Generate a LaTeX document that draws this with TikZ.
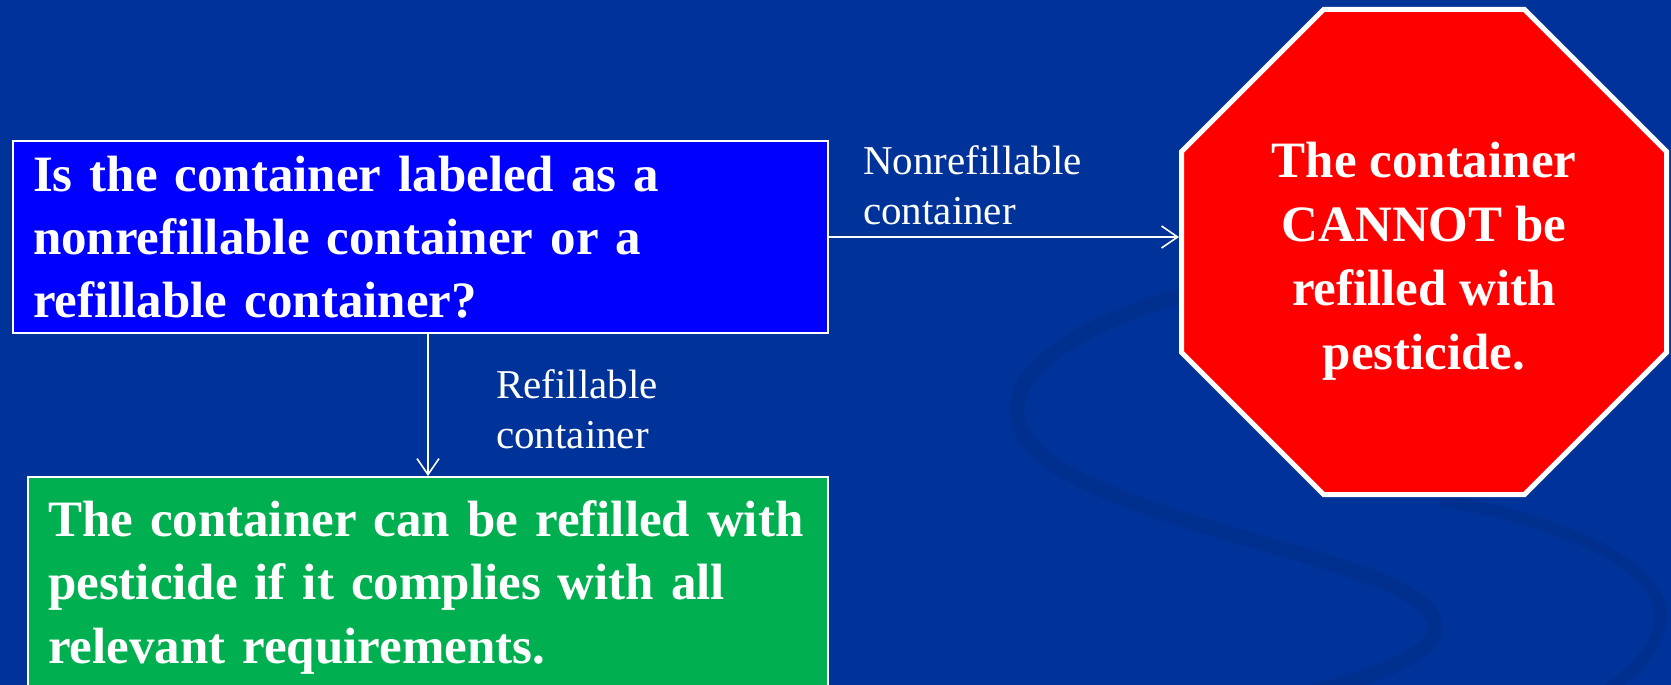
\documentclass[tikz,border=0pt]{standalone}
\usepackage{fontspec}
\setmainfont{Liberation Serif}
\usetikzlibrary{arrows.meta,shapes.geometric}
\definecolor{slide}{RGB}{0,51,153}
\definecolor{swirl}{RGB}{0,47,144}
\definecolor{askblue}{RGB}{0,0,255}
\definecolor{okgreen}{RGB}{0,176,80}
\definecolor{stopred}{RGB}{255,0,0}
\tikzset{askbox/.style={draw=white,line width=2pt,fill=askblue,text=white,font=\fontsize{51}{63}\selectfont\bfseries,
  align=left,anchor=north west,inner xsep=20pt,inner ysep=0pt,text width=775pt,minimum height=192pt},
 okbox/.style={draw=white,line width=2pt,fill=okgreen,text=white,font=\fontsize{51}{63.5}\selectfont\bfseries,
  align=left,anchor=north west,inner xsep=20pt,inner ysep=0pt,text width=760pt,minimum height=220pt},
 stopsign/.style={regular polygon,regular polygon sides=8,draw=white,line width=5pt,fill=stopred,text=white,
  font=\fontsize{51}{64}\selectfont\bfseries,align=center,minimum size=525pt,inner sep=0pt},
 arrow/.style={draw=white,line width=1.6pt,-{Straight Barb[length=16pt,width=22pt]}},
 lbl/.style={text=white,font=\fontsize{41}{50}\selectfont,align=left,anchor=base west,inner sep=0pt}}

\begin{document}
\begin{tikzpicture}[x=1pt,y=-1pt]
 \useasboundingbox (0,0) rectangle (1671,685);
 \clip (0,0) rectangle (1671,685);
 \fill[slide] (0,0) rectangle (1671,685);
 % faint swirl in the slide background
 \draw[swirl,line width=15pt,line cap=round] (1185,295) .. controls (1020,340) and (960,420) .. (1080,480)
  .. controls (1230,550) and (1440,570) .. (1435,630) .. controls (1430,665) and (1330,690) .. (1250,705);
 \draw[swirl,line width=12pt] (1440,500) .. controls (1560,520) and (1690,570) .. (1655,640)
  .. controls (1640,670) and (1610,690) .. (1580,705);
 % the question and its two answers
 \node[askbox] (ask) at (12,140) {Is the container labeled as a\\nonrefillable container or a\\refillable container?};
 \node[okbox] (ok) at (27,476) {The container can be refilled with\\pesticide if it complies with all\\relevant requirements.};
 \node[stopsign] (stop) at (1424,252) {\rule{0pt}{54pt}The container\\CANNOT be\\refilled with\\pesticide.};
 \draw[arrow] (ask.east) -- (ask.east -| stop.west);
 \draw[arrow] (ask.south -| ok.north) -- (ok.north);
 \node[lbl] (nonref) at (863,224) {Nonrefillable\\container};
 \node[lbl] (ref) at (496,448) {Refillable\\container};
\end{tikzpicture}
\end{document}
